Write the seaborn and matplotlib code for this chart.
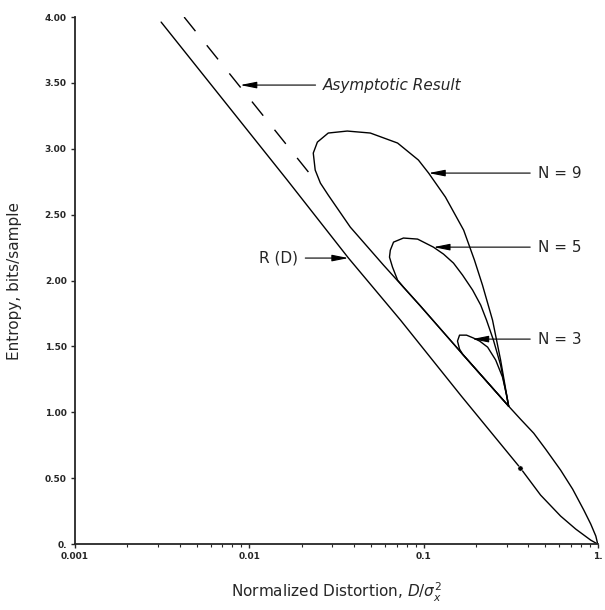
import numpy as np
import pandas as pd
import matplotlib
matplotlib.use("Agg")
import matplotlib.pyplot as plt
import seaborn as sns

sns.set_style("ticks")
plt.rcParams['font.family'] = ['DejaVu Sans']
plt.rcParams['mathtext.fontset'] = 'dejavusans'

# ---------------------------------------------------------------------------
# Data (D = normalized distortion, R = bits/sample)
# ---------------------------------------------------------------------------
rd_D = [0.00312, 0.01652, 0.0371, 0.0738, 0.165, 0.360, 0.470, 0.612, 0.748, 0.912, 1.0]
rd_R = [3.962, 2.763, 2.171, 1.700, 1.123, 0.577, 0.372, 0.213, 0.114, 0.030, 0.0]

asym_D = [0.00423, 0.0233]
asym_R = [4.00, 2.778]

# common lower branch from the cusp down to (1, 0)
tail_D = [0.308, 0.360, 0.429, 0.502, 0.612, 0.718, 0.832, 0.912, 0.975, 1.0]
tail_R = [1.047, 0.949, 0.842, 0.721, 0.562, 0.417, 0.258, 0.152, 0.061, 0.0]

n9_D = [0.308, 0.277, 0.249, 0.218, 0.196, 0.170, 0.1336, 0.107, 0.0935, 0.0710,
        0.0495, 0.0365, 0.0284, 0.0246, 0.0233, 0.0239, 0.0256, 0.0284,
        0.0380, 0.0589, 0.0962, 0.1675, 0.308]
n9_R = [1.047, 1.397, 1.700, 1.966, 2.156, 2.383, 2.634, 2.816, 2.915, 3.044,
        3.120, 3.135, 3.120, 3.051, 2.968, 2.839, 2.740, 2.649,
        2.406, 2.118, 1.806, 1.442, 1.047]

n5_D = [0.308, 0.277, 0.252, 0.230, 0.213, 0.1914, 0.1675, 0.1486, 0.1303, 0.1140,
        0.0925, 0.0767, 0.0673, 0.0645, 0.0638, 0.0664, 0.0710, 0.0767,
        0.0962, 0.1675, 0.308]
n5_R = [1.047, 1.359, 1.548, 1.700, 1.814, 1.928, 2.042, 2.133, 2.201, 2.254,
        2.315, 2.323, 2.292, 2.231, 2.178, 2.102, 2.004, 1.951,
        1.806, 1.442, 1.047]

n3_D = [0.308, 0.300, 0.284, 0.2596, 0.2333, 0.210, 0.1936, 0.1766, 0.161,
        0.1567, 0.161, 0.1675, 0.308]
n3_R = [1.047, 1.131, 1.268, 1.397, 1.495, 1.541, 1.564, 1.586, 1.586,
        1.541, 1.480, 1.442, 1.047]

marker_D = [0.360]
marker_R = [0.577]

y_ticks = [0, 0.5, 1.0, 1.5, 2.0, 2.5, 3.0, 3.5, 4.0]
y_tick_labels = ['0.', '0.50', '1.00', '1.50', '2.00', '2.50', '3.00', '3.50', '4.00']
x_ticks = [0.001, 0.01, 0.1, 1.0]
x_tick_labels = ['0.001', '0.01', '0.1', '1.']

# ---------------------------------------------------------------------------
fig = plt.figure(figsize=(6.05, 6.10), dpi=100)
ax = fig.add_axes([0.124, 0.108, 0.864, 0.864])

lw = 1.0
for D, R in [(rd_D, rd_R), (tail_D, tail_R), (n9_D, n9_R), (n5_D, n5_R), (n3_D, n3_R)]:
    sns.lineplot(x=D, y=R, sort=False, estimator=None, color='black', lw=lw, ax=ax)

sns.lineplot(x=asym_D, y=asym_R, sort=False, estimator=None, color='black', lw=lw,
             dashes=False, ax=ax, linestyle=(0, (13, 13)))
sns.scatterplot(x=marker_D, y=marker_R, color='black', s=14, ax=ax, zorder=5)

ax.set_xscale('log')
ax.set_xlim(0.001, 1.0)
ax.set_ylim(0, 4.0)
ax.set_xticks(x_ticks)
ax.set_xticklabels(x_tick_labels, fontsize=6.5, fontweight='bold')
ax.set_yticks(y_ticks)
ax.set_yticklabels(y_tick_labels, fontsize=6.5, fontweight='bold')
ax.tick_params(axis='both', which='major', direction='out', length=3, width=1, pad=3)
ax.tick_params(axis='x', which='minor', direction='out', length=2, width=0.8)
ax.xaxis.set_minor_formatter(matplotlib.ticker.NullFormatter())
sns.despine(ax=ax)
for s in ['left', 'bottom']:
    ax.spines[s].set_linewidth(1.3)

ax.set_xlabel(r'Normalized Distortion, $D/\sigma_x^2$', fontsize=11, labelpad=14)
ax.set_ylabel('Entropy, bits/sample', fontsize=11, labelpad=16)

arrow = dict(arrowstyle='-|>,head_length=0.9,head_width=0.18', color='black', lw=0.8,
             shrinkA=3, shrinkB=0)
ax.annotate('Asymptotic Result', xy=(0.00887, 3.484), xytext=(0.0265, 3.484),
            ha='left', va='center', fontsize=11, style='italic', arrowprops=arrow)
ax.annotate('N = 9', xy=(0.107, 2.816), xytext=(0.452, 2.816),
            ha='left', va='center', fontsize=11, arrowprops=arrow)
ax.annotate('N = 5', xy=(0.114, 2.254), xytext=(0.452, 2.254),
            ha='left', va='center', fontsize=11, arrowprops=arrow)
ax.annotate('N = 3', xy=(0.190, 1.556), xytext=(0.452, 1.556),
            ha='left', va='center', fontsize=11, arrowprops=arrow)
ax.annotate('R (D)', xy=(0.0371, 2.171), xytext=(0.0190, 2.171),
            ha='right', va='center', fontsize=11, arrowprops=arrow)

fig.savefig('out.png', dpi=100)
